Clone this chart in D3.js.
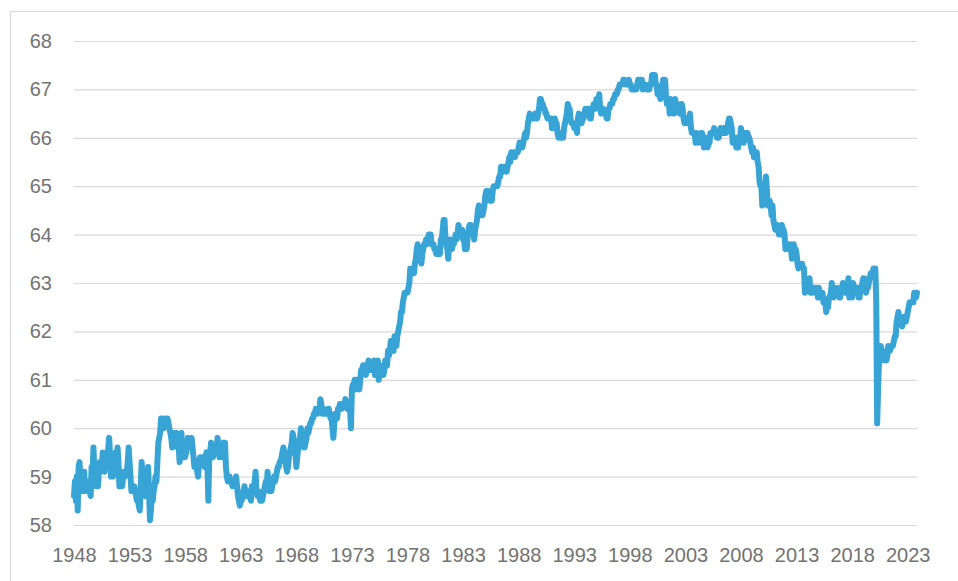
<!DOCTYPE html>
<html>
<head>
<meta charset="utf-8">
<script src="https://cdn.jsdelivr.net/npm/d3@7"></script>
<style>
  body { margin: 0; background: #fff; }
  svg { display: block; font-family: 'Open Sans', 'Liberation Sans', sans-serif; }
  .axis text { fill: #737373; font-size: 20px; }
  .axis .domain { display: none; }
  .y-axis line { stroke: #d9d9d9; stroke-width: 1.2; }
  .x-axis line { display: none; }
</style>
</head>
<body>
<svg id="chart" width="958" height="581"></svg>
<script>
// Labour force participation rate, monthly, Jan 1948 - Nov 2023
const startYear = 1948;
const lfpr = [
  58.6, 58.9, 58.5, 59.0, 58.3, 59.2, 59.3, 58.9, 58.9, 58.7, 58.7, 59.1, // 1948
  58.7, 58.9, 58.8, 58.7, 58.9, 58.7, 58.6, 59.2, 59.0, 59.6, 59.1, 59.0, // 1949
  58.8, 58.9, 58.8, 59.2, 59.3, 59.1, 59.2, 59.5, 59.2, 59.1, 59.3, 59.4, // 1950
  59.3, 59.6, 59.8, 59.4, 59.0, 59.2, 59.0, 59.2, 59.4, 59.5, 59.4, 59.6, // 1951
  59.3, 58.8, 59.0, 58.9, 58.8, 59.0, 59.1, 59.0, 59.1, 59.1, 59.3, 59.6, // 1952
  59.3, 59.0, 58.7, 58.8, 58.7, 58.8, 58.7, 58.6, 58.5, 58.5, 58.4, 58.3, // 1953
  58.8, 59.3, 59.0, 59.1, 58.8, 58.6, 58.7, 58.9, 59.2, 58.7, 58.1, 58.3, // 1954
  58.6, 58.5, 58.7, 58.8, 59.0, 58.9, 59.3, 59.7, 59.8, 59.9, 60.2, 60.1, // 1955
  60.2, 60.0, 60.1, 60.2, 60.2, 60.2, 60.1, 60.0, 59.9, 59.8, 59.6, 59.8, // 1956
  59.9, 59.9, 59.8, 59.9, 59.6, 59.6, 59.3, 59.6, 59.9, 59.5, 59.4, 59.4, // 1957
  59.4, 59.5, 59.6, 59.8, 59.6, 59.6, 59.7, 59.8, 59.6, 59.4, 59.2, 59.2, // 1958
  59.3, 59.1, 59.0, 59.3, 59.4, 59.4, 59.3, 59.4, 59.3, 59.2, 59.4, 59.5, // 1959
  59.3, 58.5, 59.4, 59.5, 59.7, 59.5, 59.4, 59.5, 59.5, 59.6, 59.6, 59.8, // 1960
  59.6, 59.4, 59.5, 59.4, 59.5, 59.7, 59.7, 59.7, 59.2, 59.0, 58.9, 59.0, // 1961
  59.0, 58.9, 58.9, 58.8, 58.9, 58.9, 58.8, 59.0, 58.8, 58.6, 58.5, 58.4, // 1962
  58.6, 58.5, 58.6, 58.7, 58.8, 58.7, 58.6, 58.7, 58.6, 58.7, 58.6, 58.5, // 1963
  58.8, 58.7, 58.7, 58.9, 59.1, 58.7, 58.6, 58.7, 58.6, 58.5, 58.6, 58.5, // 1964
  58.6, 58.7, 58.8, 58.9, 58.8, 59.1, 58.8, 58.7, 58.8, 58.7, 58.8, 58.9, // 1965
  59.0, 58.9, 59.0, 59.1, 59.2, 59.2, 59.3, 59.3, 59.4, 59.5, 59.6, 59.5, // 1966
  59.4, 59.2, 59.1, 59.2, 59.4, 59.5, 59.6, 59.7, 59.9, 59.8, 59.6, 59.5, // 1967
  59.2, 59.4, 59.6, 59.7, 59.8, 60.0, 59.8, 59.7, 59.6, 59.6, 59.7, 59.8, // 1968
  60.0, 59.9, 60.0, 60.1, 60.1, 60.2, 60.2, 60.3, 60.3, 60.4, 60.3, 60.3, // 1969
  60.4, 60.4, 60.6, 60.5, 60.3, 60.4, 60.3, 60.3, 60.3, 60.3, 60.4, 60.4, // 1970
  60.3, 60.2, 60.2, 60.0, 59.8, 60.1, 60.3, 60.3, 60.2, 60.4, 60.4, 60.5, // 1971
  60.5, 60.4, 60.5, 60.5, 60.5, 60.6, 60.5, 60.4, 60.5, 60.4, 60.4, 60.0, // 1972
  60.8, 60.9, 60.9, 61.0, 60.8, 61.0, 60.9, 60.9, 60.8, 61.0, 61.2, 61.2, // 1973
  61.3, 61.3, 61.2, 61.1, 61.2, 61.3, 61.4, 61.2, 61.3, 61.3, 61.3, 61.2, // 1974
  61.4, 61.1, 61.3, 61.3, 61.4, 61.0, 61.3, 61.2, 61.1, 61.1, 61.1, 61.2, // 1975
  61.4, 61.3, 61.3, 61.6, 61.5, 61.6, 61.8, 61.8, 61.6, 61.6, 61.9, 61.8, // 1976
  61.7, 61.9, 62.0, 62.1, 62.2, 62.4, 62.4, 62.6, 62.7, 62.8, 62.8, 62.8, // 1977
  62.8, 62.9, 63.0, 63.3, 63.2, 63.2, 63.3, 63.2, 63.4, 63.5, 63.7, 63.8, // 1978
  63.7, 63.6, 63.5, 63.4, 63.6, 63.7, 63.8, 63.8, 63.9, 63.8, 63.9, 64.0, // 1979
  64.0, 64.0, 63.8, 63.8, 63.8, 63.7, 63.7, 63.6, 63.6, 63.7, 63.7, 63.6, // 1980
  63.9, 63.9, 64.1, 64.3, 64.3, 63.9, 63.8, 63.7, 63.5, 63.8, 63.9, 63.7, // 1981
  63.7, 63.8, 63.8, 63.9, 64.0, 63.9, 64.0, 64.2, 64.1, 64.1, 64.1, 64.1, // 1982
  63.9, 63.9, 63.7, 63.8, 63.7, 64.0, 64.1, 64.2, 64.2, 64.0, 64.1, 64.1, // 1983
  63.9, 64.1, 64.2, 64.3, 64.5, 64.6, 64.5, 64.4, 64.4, 64.4, 64.5, 64.6, // 1984
  64.8, 64.9, 64.9, 64.9, 64.8, 64.7, 64.8, 64.7, 64.9, 65.0, 65.0, 65.0, // 1985
  65.0, 65.0, 65.1, 65.2, 65.2, 65.4, 65.4, 65.3, 65.4, 65.4, 65.4, 65.3, // 1986
  65.4, 65.5, 65.6, 65.5, 65.7, 65.6, 65.6, 65.7, 65.6, 65.7, 65.7, 65.7, // 1987
  65.8, 65.9, 65.8, 65.8, 65.8, 65.9, 66.0, 66.1, 66.0, 66.1, 66.3, 66.4, // 1988
  66.5, 66.4, 66.4, 66.4, 66.4, 66.4, 66.5, 66.5, 66.4, 66.5, 66.6, 66.8, // 1989
  66.8, 66.7, 66.7, 66.6, 66.6, 66.5, 66.5, 66.4, 66.4, 66.4, 66.4, 66.4, // 1990
  66.2, 66.2, 66.3, 66.4, 66.3, 66.3, 66.1, 66.0, 66.1, 66.0, 66.0, 66.0, // 1991
  66.0, 66.2, 66.3, 66.4, 66.5, 66.7, 66.6, 66.6, 66.4, 66.3, 66.3, 66.3, // 1992
  66.2, 66.2, 66.2, 66.1, 66.4, 66.5, 66.4, 66.4, 66.3, 66.4, 66.4, 66.5, // 1993
  66.6, 66.6, 66.5, 66.6, 66.6, 66.4, 66.4, 66.6, 66.6, 66.7, 66.7, 66.6, // 1994
  66.8, 66.8, 66.8, 66.9, 66.6, 66.5, 66.6, 66.6, 66.5, 66.5, 66.5, 66.4, // 1995
  66.4, 66.6, 66.6, 66.7, 66.7, 66.7, 66.8, 66.8, 66.9, 66.9, 66.9, 67.0, // 1996
  67.0, 67.1, 67.1, 67.1, 67.1, 67.2, 67.2, 67.1, 67.1, 67.1, 67.1, 67.2, // 1997
  67.1, 67.1, 67.0, 67.0, 67.0, 67.0, 67.0, 67.0, 67.1, 67.2, 67.1, 67.2, // 1998
  67.2, 67.2, 67.0, 67.1, 67.1, 67.1, 67.0, 67.0, 67.0, 67.0, 67.1, 67.1, // 1999
  67.3, 67.3, 67.3, 67.3, 67.1, 67.1, 66.9, 66.9, 66.9, 66.8, 66.9, 67.0, // 2000
  67.2, 67.1, 67.2, 66.9, 66.7, 66.7, 66.8, 66.5, 66.8, 66.7, 66.7, 66.7, // 2001
  66.5, 66.8, 66.6, 66.7, 66.7, 66.6, 66.5, 66.6, 66.7, 66.6, 66.4, 66.3, // 2002
  66.4, 66.4, 66.3, 66.4, 66.4, 66.5, 66.2, 66.1, 66.1, 66.1, 66.1, 65.9, // 2003
  66.1, 66.0, 66.0, 65.9, 66.0, 66.1, 66.1, 66.0, 65.8, 65.9, 66.0, 65.9, // 2004
  65.8, 65.9, 65.9, 66.1, 66.1, 66.1, 66.1, 66.2, 66.1, 66.1, 66.0, 66.0, // 2005
  66.0, 66.1, 66.2, 66.1, 66.1, 66.2, 66.1, 66.2, 66.1, 66.2, 66.3, 66.4, // 2006
  66.4, 66.3, 66.2, 65.9, 66.0, 66.0, 66.0, 65.8, 66.0, 65.8, 66.0, 66.0, // 2007
  66.2, 66.0, 66.1, 65.9, 66.1, 66.1, 66.1, 66.1, 66.0, 66.0, 65.9, 65.8, // 2008
  65.7, 65.8, 65.6, 65.7, 65.7, 65.7, 65.5, 65.4, 65.1, 65.0, 65.0, 64.6, // 2009
  64.8, 64.9, 64.9, 65.2, 64.9, 64.6, 64.6, 64.7, 64.6, 64.4, 64.6, 64.3, // 2010
  64.2, 64.1, 64.2, 64.2, 64.1, 64.0, 64.0, 64.1, 64.2, 64.1, 64.1, 64.0, // 2011
  63.7, 63.8, 63.8, 63.7, 63.7, 63.8, 63.7, 63.5, 63.6, 63.8, 63.6, 63.7, // 2012
  63.6, 63.4, 63.3, 63.4, 63.4, 63.4, 63.4, 63.3, 63.3, 62.8, 63.0, 62.9, // 2013
  62.9, 62.9, 63.1, 62.8, 62.8, 62.8, 62.9, 62.9, 62.8, 62.9, 62.9, 62.7, // 2014
  62.9, 62.7, 62.7, 62.7, 62.8, 62.6, 62.6, 62.6, 62.4, 62.5, 62.5, 62.7, // 2015
  62.7, 62.8, 63.0, 62.8, 62.7, 62.8, 62.8, 62.8, 62.9, 62.8, 62.7, 62.7, // 2016
  62.9, 62.9, 63.0, 62.9, 62.8, 62.8, 62.9, 62.9, 63.1, 62.7, 62.8, 62.8, // 2017
  62.7, 63.0, 62.9, 62.8, 62.8, 62.9, 62.9, 62.7, 62.7, 62.9, 62.9, 63.0, // 2018
  63.1, 63.1, 63.0, 62.8, 62.9, 62.9, 63.0, 63.1, 63.2, 63.2, 63.2, 63.3, // 2019
  63.3, 63.3, 62.6, 60.1, 60.8, 61.4, 61.5, 61.7, 61.4, 61.6, 61.5, 61.5, // 2020
  61.4, 61.4, 61.5, 61.7, 61.6, 61.6, 61.7, 61.7, 61.7, 61.8, 61.9, 61.9, // 2021
  62.2, 62.3, 62.4, 62.2, 62.2, 62.2, 62.1, 62.3, 62.3, 62.2, 62.2, 62.3, // 2022
  62.4, 62.5, 62.6, 62.6, 62.6, 62.6, 62.6, 62.8, 62.8, 62.7, 62.8        // 2023
];
const tickYears = [1948, 1953, 1958, 1963, 1968, 1973, 1978, 1983, 1988, 1993, 1998, 2003, 2008, 2013, 2018, 2023];
const yTicks = [58, 59, 60, 61, 62, 63, 64, 65, 66, 67, 68];

const svg = d3.select('#chart');
const margin = {top: 41, right: 41, bottom: 56, left: 74},
    width = 958 - margin.left - margin.right,
    height = 581 - margin.top - margin.bottom;

// chart area border
svg.append('rect')
    .attr('x', 10.5)
    .attr('y', 11.5)
    .attr('width', 970)
    .attr('height', 600)
    .attr('fill', 'none')
    .attr('stroke', '#d9d9d9')
    .attr('stroke-width', 1.2);

const g = svg.append('g')
    .attr('transform', `translate(${margin.left},${margin.top})`);

const data = lfpr.map((v, i) => ({i: i, value: v}));

const xScale = d3.scaleLinear()
    .domain([0, lfpr.length - 1])
    .range([0, width]);
const yScale = d3.scaleLinear()
    .domain([58, 68])
    .range([height, 0]);

// y axis + gridlines
g.append('g')
    .attr('class', 'axis y-axis')
    .call(d3.axisLeft(yScale)
        .tickValues(yTicks)
        .tickSize(-width)
        .tickPadding(22)
        .tickFormat(d3.format('d')));

// x axis labels
g.append('g')
    .attr('class', 'axis x-axis')
    .attr('transform', `translate(0,${height})`)
    .call(d3.axisBottom(xScale)
        .tickValues(tickYears.map(y => (y - startYear) * 12))
        .tickSize(0)
        .tickPadding(23)
        .tickFormat(i => startYear + i / 12));

const line = d3.line()
    .x(d => xScale(d.i))
    .y(d => yScale(d.value));

g.append('path')
    .datum(data)
    .attr('d', line)
    .attr('fill', 'none')
    .attr('stroke', '#37a4d5')
    .attr('stroke-width', 6)
    .attr('stroke-linejoin', 'round')
    .attr('stroke-linecap', 'round');
</script>
</body>
</html>
